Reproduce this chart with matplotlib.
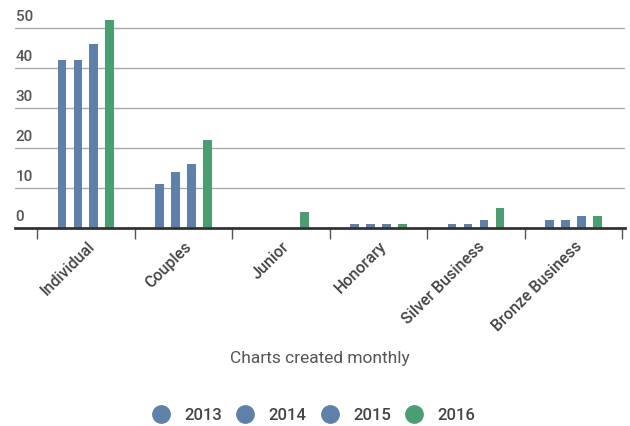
import matplotlib
matplotlib.use("Agg")
import matplotlib.pyplot as plt
import matplotlib.transforms as mtransforms
from matplotlib.lines import Line2D
import numpy as np

plt.rcParams['font.family'] = ['Roboto', 'DejaVu Sans']

categories = ["Individual", "Couples", "Junior", "Honorary", "Silver Business", "Bronze Business"]
years = ["2013", "2014", "2015", "2016"]
v2013 = [42, 11, 0, 1, 1, 2]
v2014 = [42, 14, 0, 1, 1, 2]
v2015 = [46, 16, 0, 1, 2, 3]
v2016 = [52, 22, 4, 1, 5, 3]
yticks = [0, 10, 20, 30, 40, 50]

blue = "#5f80a8"
green = "#4a9e72"
colors = [blue, blue, blue, green]

fig = plt.figure(figsize=(6.3, 4.27), dpi=100)
ax = fig.add_axes([15 / 630, 198 / 427, 610 / 630, 214 / 427])

x = np.arange(len(categories))
step = 0.164
width = 0.088
for i, (vals, c) in enumerate(zip([v2013, v2014, v2015, v2016], colors)):
    ax.bar(x + (i - 1.5) * step, vals, width=width, color=c, zorder=3)

ax.set_xlim(-0.5 - 0.226, 5.53)
ax.set_ylim(0, 53.5)

for s in ["top", "right", "left"]:
    ax.spines[s].set_visible(False)
ax.spines["bottom"].set_color("#333333")
ax.spines["bottom"].set_linewidth(2)
ax.spines["bottom"].set_zorder(4)

# gridlines and y labels placed above the lines
trans = mtransforms.blended_transform_factory(ax.transAxes, ax.transData)
for t in yticks:
    if t > 0:
        ax.axhline(t, color="#aaaaaa", lw=1, zorder=1)
    ax.annotate(str(t), xy=(0, t), xycoords=trans, xytext=(0.5, 3.5),
                textcoords="offset points", ha="left", va="bottom",
                fontsize=11, fontweight="medium", color="#555555")
ax.set_yticks([])

# ticks at category boundaries, labels at centres
ax.set_xticks(np.arange(-0.5, len(categories), 1.0))
ax.set_xticklabels([])
ax.tick_params(axis="x", length=8, width=1, color="#555555")
for i, name in enumerate(categories):
    ax.annotate(name, xy=(i, 0), xycoords="data", xytext=(4.5, -11),
                textcoords="offset points", ha="right", va="center",
                rotation=45, rotation_mode="anchor", fontsize=11.5,
                fontweight="medium", color="#444444", annotation_clip=False)

fig.text(320 / 630, 1 - 358 / 427, "Charts created monthly", ha="center",
         va="center", fontsize=12.5, color="#555555")

handles = [Line2D([], [], marker="o", linestyle="none", markersize=12.5,
                  markerfacecolor=c, markeredgecolor=c) for c in colors]
fig.legend(handles, years, loc="center", bbox_to_anchor=(312 / 630, 1 - 416 / 427),
           ncol=4, frameon=False, labelcolor="#444444",
           prop={"weight": "medium", "size": 12},
           handletextpad=0.65, columnspacing=0.65, handlelength=1.5)

fig.savefig("out.png", dpi=100)
